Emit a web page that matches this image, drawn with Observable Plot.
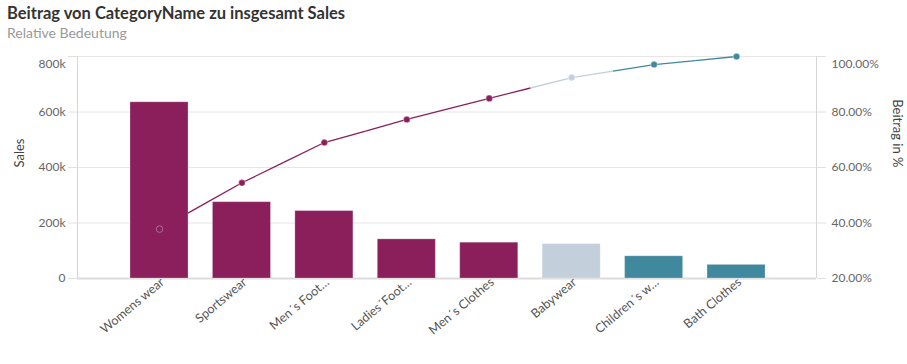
<!DOCTYPE html>
<html>
<head>
<meta charset="utf-8">
<script src="https://cdn.jsdelivr.net/npm/d3@7"></script>
<script src="https://cdn.jsdelivr.net/npm/@observablehq/plot@0.6"></script>
<style>
  body { margin: 0; background: #fff; font-family: Lato, "Noto Sans", sans-serif; }
  #title { height: 24px; padding: 2px 0 0 7px; box-sizing: border-box; font-size: 16.5px; font-weight: bold; color: #333; line-height: 22px; white-space: nowrap; }
  #subtitle { height: 20px; padding-left: 7px; font-size: 14px; color: #999; line-height: 18px; white-space: nowrap; }
  #chart svg { display: block; }
</style>
</head>
<body>
<div id="title">Beitrag von CategoryName zu insgesamt Sales</div>
<div id="subtitle">Relative Bedeutung</div>
<div id="chart"></div>
<script>
// ---- data ----
const categories = ["Womens wear", "Sportswear", "Men´s Foot…", "Ladies´Foot…", "Men´s Clothes", "Babywear", "Children´s w…", "Bath Clothes"];
const sales = [635000, 275000, 243000, 141000, 129000, 124000, 80000, 49000];
const cumulativePct = [37.8, 54.5, 69.0, 77.3, 84.9, 92.4, 97.1, 100.0];
const classes = ["A", "A", "A", "A", "A", "B", "C", "C"];
const salesTicks = [0, 200000, 400000, 600000, 800000];
const pctTicks = [20, 40, 60, 80, 100];

// ---- styling ----
const classColors = {domain: ["A", "B", "C"], range: ["#8a1f5c", "#c4cfdc", "#3f889d"]};
const pctMin = 20, pctMax = 100, salesMax = 800000;
const toY = p => (p - pctMin) / (pctMax - pctMin) * salesMax;
const xDomain = [-0.995, 7.97];

const rows = categories.map((c, i) => ({i, cat: c, sales: sales[i], pct: cumulativePct[i], cls: classes[i]}));

// line segments, colour switching halfway between neighbouring points
const segs = [];
for (let i = 0; i < rows.length - 1; i++) {
  const a = rows[i], b = rows[i + 1];
  const mx = (a.i + b.i) / 2, my = (a.pct + b.pct) / 2;
  segs.push({x1: a.i, y1: a.pct, x2: mx, y2: my, cls: a.cls});
  segs.push({x1: mx, y1: my, x2: b.i, y2: b.pct, cls: b.cls});
}

const fmtSales = d => d === 0 ? "0" : (d / 1000) + "k";
const fmtPct = p => p.toFixed(2) + "%";
const tickFill = "#666";

const plot = Plot.plot({
  width: 907,
  height: 320,
  marginTop: 12,
  marginBottom: 86,
  marginLeft: 77,
  marginRight: 91,
  style: {fontFamily: "Lato, 'Noto Sans', sans-serif", background: "#fff"},
  x: {type: "linear", domain: xDomain, axis: null},
  y: {domain: [0, salesMax], axis: null},
  color: classColors,
  marks: [
    Plot.gridY(salesTicks, {stroke: "#e6e6e6", strokeOpacity: 1}),
    // outer tick marks
    Plot.axisY(salesTicks, {anchor: "left", label: null, tickSize: 9, tickFormat: () => "", stroke: "#e0e0e0"}),
    Plot.axisY(pctTicks.map(toY), {anchor: "right", label: null, tickSize: 9, tickFormat: () => "", stroke: "#e0e0e0"}),
    // axis lines
    Plot.ruleX(xDomain, {y1: 0, y2: salesMax, stroke: "#d6d6d6"}),
    Plot.ruleY([0], {stroke: "#dcdcdc", strokeWidth: 2}),
    // left tick labels
    Plot.text(salesTicks.slice(0, -1), {y: d => d, text: fmtSales, frameAnchor: "left", textAnchor: "end", dx: -12, fill: tickFill, fontSize: 12}),
    Plot.text(salesTicks.slice(-1), {y: d => d, text: fmtSales, frameAnchor: "left", textAnchor: "end", dx: -12, dy: 8, fill: tickFill, fontSize: 12}),
    // right tick labels
    Plot.text(pctTicks.slice(0, -1), {y: d => toY(d), text: fmtPct, frameAnchor: "right", textAnchor: "start", dx: 15, fill: tickFill, fontSize: 12}),
    Plot.text(pctTicks.slice(-1), {y: d => toY(d), text: fmtPct, frameAnchor: "right", textAnchor: "start", dx: 15, dy: 8, fill: tickFill, fontSize: 12}),
    // axis titles
    Plot.text(["Sales"], {frameAnchor: "left", dx: -58, rotate: -90, fill: "#444", fontSize: 13}),
    Plot.text(["Beitrag in %"], {frameAnchor: "right", dx: 81, rotate: 90, fill: "#444", fontSize: 13}),
    // x axis labels
    Plot.axisX(rows.map(d => d.i), {anchor: "bottom", label: null, tickSize: 0, tickPadding: 2, tickRotate: -40, dx: 3, tickFormat: i => categories[i], fill: "#555", fontSize: 12.5}),
    // cumulative line (behind bars)
    Plot.link(segs, {x1: "x1", y1: d => toY(d.y1), x2: "x2", y2: d => toY(d.y2), stroke: "cls", strokeWidth: 1.3}),
    // bars
    Plot.rectY(rows, {x1: d => d.i - 0.352, x2: d => d.i + 0.352, y: "sales", fill: "cls", stroke: "#fff", strokeOpacity: 0.25, strokeWidth: 1}),
    // dots
    Plot.dot(rows.slice(0, 1), {x: "i", y: d => toY(d.pct), r: 3.3, fill: "none", stroke: "#b3679a", strokeWidth: 1}),
    Plot.dot(rows.slice(1), {x: "i", y: d => toY(d.pct), r: 3.3, fill: "cls", stroke: "#fff", strokeOpacity: 0.3})
  ]
});
document.getElementById("chart").appendChild(plot);
</script>
</body>
</html>
